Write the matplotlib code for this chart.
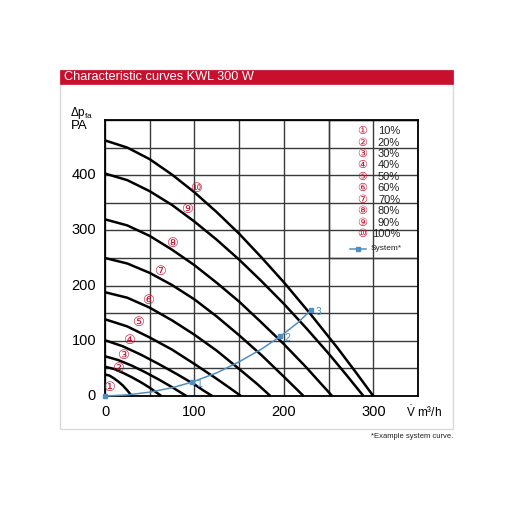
import numpy as np
import matplotlib
matplotlib.use('Agg')
import matplotlib.pyplot as plt
from matplotlib.patches import Rectangle

plt.rcParams['font.family'] = ['Liberation Sans', 'DejaVu Sans']
plt.rcParams['mathtext.default'] = 'regular'

v10 = [0, 5, 10, 15, 20, 25, 30]
p10 = [39, 37, 32, 26, 19, 10, 0]
v20 = [0, 10, 20, 30, 40, 50, 63]
p20 = [53, 49, 42, 34, 25, 15, 0]
v30 = [0, 15, 30, 45, 60, 75, 91]
p30 = [72, 65, 55, 43, 30, 16, 0]
v40 = [0, 20, 40, 60, 80, 100, 110, 120]
p40 = [101, 90, 75, 58, 40, 21, 10, 0]
v50 = [0, 25, 50, 75, 100, 125, 140, 152]
p50 = [139, 126, 106, 84, 58, 31, 14, 0]
v60 = [0, 25, 50, 75, 100, 125, 150, 170, 185]
p60 = [188, 178, 160, 137, 111, 82, 49, 22, 0]
v70 = [0, 25, 50, 75, 100, 125, 150, 175, 200, 222]
p70 = [250, 240, 223, 201, 175, 144, 110, 74, 35, 0]
v80 = [0, 25, 50, 75, 100, 125, 150, 175, 200, 225, 240, 254]
p80 = [320, 309, 290, 265, 237, 205, 171, 133, 94, 52, 25, 0]
v90 = [0, 25, 50, 75, 100, 125, 150, 175, 200, 225, 250, 270, 289]
p90 = [403, 391, 371, 346, 316, 283, 247, 208, 167, 123, 77, 38, 0]
v100 = [0, 25, 50, 75, 100, 125, 150, 175, 200, 230, 260, 280, 300]
p100 = [463, 450, 429, 401, 369, 333, 294, 251, 206, 148, 87, 44, 0]

kurven = [(v10, p10), (v20, p20), (v30, p30), (v40, p40), (v50, p50),
          (v60, p60), (v70, p70), (v80, p80), (v90, p90), (v100, p100)]
prozent = ['10%', '20%', '30%', '40%', '50%', '60%', '70%', '80%', '90%', '100%']
kreise = ['\u2460', '\u2461', '\u2462', '\u2463', '\u2464',
          '\u2465', '\u2466', '\u2467', '\u2468', '\u2469']
# Position der Kreisnummern an den Kurven
lab_v = [4, 14, 20, 27, 37, 48, 61, 75, 92, 102]
lab_p = [16, 50, 73, 100, 133, 173, 225, 276, 338, 376]

# Anlagenkennlinie (Beispiel)
sys_v = [0, 25, 50, 75, 97, 125, 150, 175, 196, 215, 230]
sys_p = [0, 2, 7, 15, 25, 42, 62, 85, 108, 132, 155]
sys_mark = [0, 4, 8, 10]
sys_lab = ['1', '2', '3']

rot = '#c8102e'
blau = '#4f8fc0'
kreis_font = ['DejaVu Sans', 'Noto Sans CJK JP']

fig = plt.figure(figsize=(5.12, 5.12), dpi=100)

# Rahmen und Titelbalken
fig.patches.append(Rectangle((60/512, 1-429/512), 393/512, 359/512, transform=fig.transFigure,
                             facecolor='none', edgecolor='#d9d9d9', lw=1, zorder=0))
fig.patches.append(Rectangle((60/512, 1-84/512), 393/512, 14/512, transform=fig.transFigure,
                             facecolor=rot, edgecolor=rot, lw=0.5, zorder=1))
fig.text(64/512, 1-77/512, 'Characteristic curves KWL 300 W', color='white', fontsize=9.2,
         va='center', ha='left')

ax = fig.add_axes([105/512, 1-396/512, 313/512, 276/512])
ax.set_zorder(3)
ax.set_xlim(0, 350)
ax.set_ylim(0, 500)
ax.set_xticks(np.arange(0, 351, 50))
ax.set_yticks(np.arange(0, 501, 50))
ax.grid(True, color='#3a3a3a', lw=1, zorder=0)
ax.tick_params(length=0, labelbottom=False, labelleft=False)
for s in ax.spines.values():
    s.set_linewidth(1.3)
    s.set_color('black')

for x in [0, 100, 200, 300]:
    ax.text(x, -16, str(x), ha='center', va='top', fontsize=10.5)
for y in [0, 100, 200, 300, 400]:
    ax.text(-10, y, str(y), ha='right', va='center', fontsize=10.5)

ax.text(-39, 513, '\u0394p$_{fa}$', ha='left', va='center', fontsize=8.5)
ax.text(-38, 490, 'PA', ha='left', va='center', fontsize=9.5)
ax.text(337, -16, '$\\dot{V}$ m\u00b3/h', ha='left', va='top', fontsize=8.5)

# Legendenfeld
ax.add_patch(Rectangle((250, 250), 100, 250, facecolor='white', edgecolor='#3a3a3a', lw=1, zorder=1))

for (v, p) in kurven:
    ax.plot(v, p, color='black', lw=1.8, zorder=3, clip_on=False, solid_capstyle='butt')

for i in range(10):
    ax.text(lab_v[i], lab_p[i], kreise[i], color=rot, fontsize=9.5, ha='center', va='center',
            family=kreis_font, zorder=4)
    yy = 480 - i * 20.8
    ax.text(288, yy, kreise[i], color=rot, fontsize=8, ha='center', va='center',
            family=kreis_font, zorder=4)
    ax.text(330, yy, prozent[i], color='#222222', fontsize=8, ha='right', va='center', zorder=4)

ax.plot(sys_v, sys_p, color=blau, lw=1.1, zorder=4, clip_on=False)
ax.plot([sys_v[i] for i in sys_mark], [sys_p[i] for i in sys_mark], 's', color=blau,
        ms=3, zorder=5, clip_on=False)
for j, i in enumerate(sys_mark[1:]):
    ax.text(sys_v[i] + 5, sys_p[i] - 3, sys_lab[j], color=blau, fontsize=7.5, ha='left', va='center', zorder=5)

ax.plot([274, 292], [267, 267], color=blau, lw=1.1, zorder=4)
ax.plot([283], [267], 's', color=blau, ms=3, zorder=5)
ax.text(297, 267, 'System*', color='#222222', fontsize=6, ha='left', va='center', zorder=5)

fig.text(453/512, 1-437/512, '*Example system curve.', fontsize=5.5, ha='right', va='center',
         color='#222222')

fig.savefig('out.png', dpi=100)
